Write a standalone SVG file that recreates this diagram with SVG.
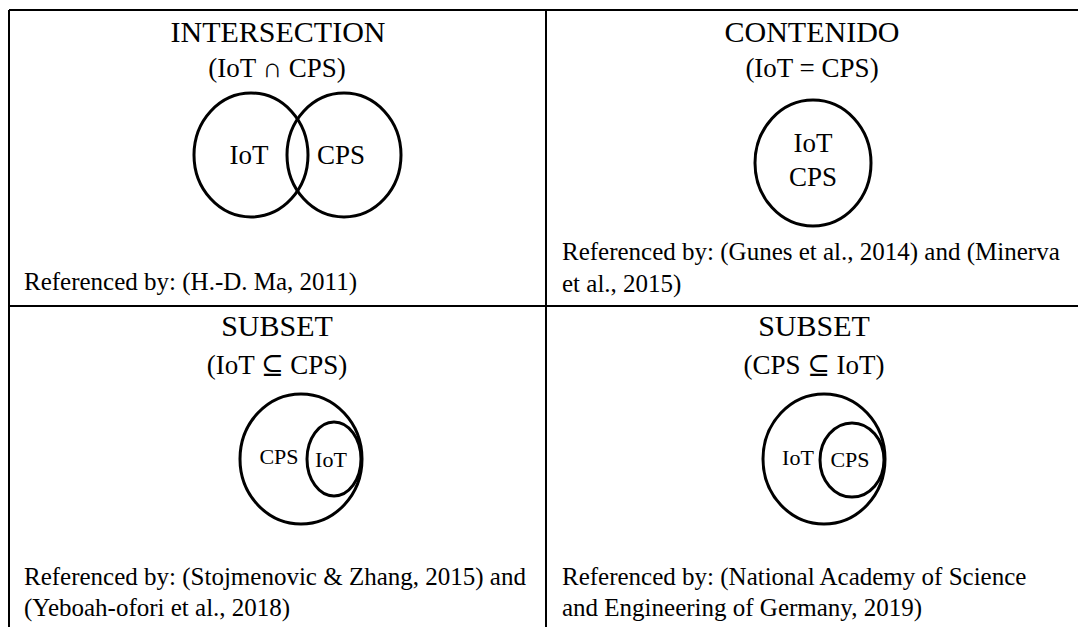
<svg xmlns="http://www.w3.org/2000/svg" width="1078" height="627" viewBox="0 0 1078 627">
<style>
text{font-family:"Liberation Serif","Times New Roman","DejaVu Serif",serif;fill:#000}
.t{font-size:30px;text-anchor:middle}
.s{font-size:27px;text-anchor:middle}
.l{font-size:27px;text-anchor:middle}
.m{font-size:22px;text-anchor:middle}
.r{font-size:25px}
.c{fill:none;stroke:#000;stroke-width:3}
.g{stroke:#000;stroke-width:2;fill:none}
</style>
<rect width="1078" height="627" fill="#fff"/>
<g id="grid">
<line class="g" x1="9" y1="10" x2="1078" y2="10"/>
<line class="g" x1="9" y1="10" x2="9" y2="627"/>
<line class="g" x1="546" y1="10" x2="546" y2="627"/>
<line class="g" x1="9" y1="306" x2="1078" y2="306"/>
</g>
<g id="intersection">
<text class="t" x="278" y="42">INTERSECTION</text>
<text class="s" x="277" y="77">(IoT ∩ CPS)</text>
<ellipse class="c" cx="251" cy="155" rx="57" ry="62"/>
<ellipse class="c" cx="344" cy="155" rx="57" ry="62"/>
<text class="l" x="249" y="164">IoT</text>
<text class="l" x="341" y="164">CPS</text>
<text class="r" x="24" y="290">Referenced by: (H.-D. Ma, 2011)</text>
</g>
<g id="contenido">
<text class="t" x="812" y="42">CONTENIDO</text>
<text class="s" x="812" y="77">(IoT = CPS)</text>
<ellipse class="c" cx="813" cy="163" rx="58" ry="63"/>
<text class="l" x="813" y="152">IoT</text>
<text class="l" x="813" y="186">CPS</text>
<text class="r" x="562" y="260">Referenced by: (Gunes et al., 2014) and (Minerva</text>
<text class="r" x="562" y="292">et al., 2015)</text>
</g>
<g id="subset1">
<text class="t" x="277" y="336">SUBSET</text>
<text class="s" x="277" y="374">(IoT ⊆ CPS)</text>
<ellipse class="c" cx="301" cy="459" rx="61" ry="65"/>
<ellipse class="c" cx="334" cy="459" rx="27" ry="37"/>
<text class="m" x="279" y="464">CPS</text>
<text class="m" x="331" y="467">IoT</text>
<text class="r" x="24" y="585">Referenced by: (Stojmenovic &amp; Zhang, 2015) and</text>
<text class="r" x="24" y="616">(Yeboah-ofori et al., 2018)</text>
</g>
<g id="subset2">
<text class="t" x="814" y="336">SUBSET</text>
<text class="s" x="814" y="374">(CPS ⊆ IoT)</text>
<ellipse class="c" cx="824" cy="459" rx="61" ry="65"/>
<ellipse class="c" cx="852" cy="460" rx="32" ry="37"/>
<text class="m" x="798" y="465">IoT</text>
<text class="m" x="850" y="467">CPS</text>
<text class="r" x="562" y="585">Referenced by: (National Academy of Science</text>
<text class="r" x="562" y="616">and Engineering of Germany, 2019)</text>
</g>
<g id="connectors"></g>
</svg>
